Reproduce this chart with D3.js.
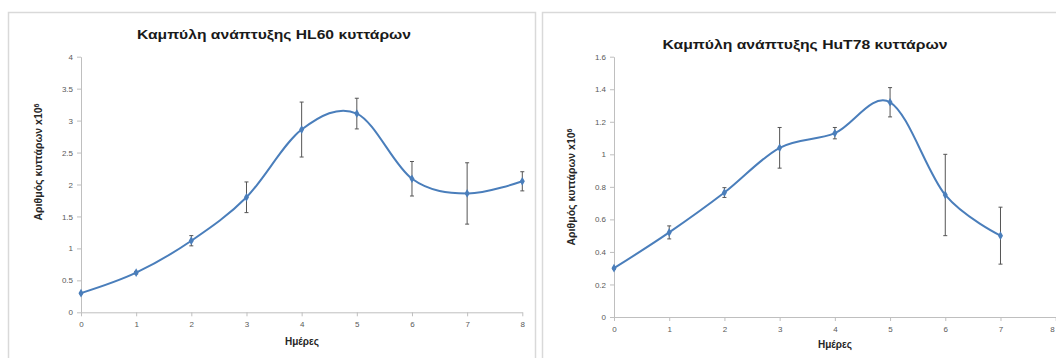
<!DOCTYPE html>
<html>
<head>
<meta charset="utf-8">
<script src="https://cdn.jsdelivr.net/npm/d3@7"></script>
<style>
html,body{margin:0;padding:0;background:#fff;}
svg{display:block;}
</style>
</head>
<body>
<svg id="c" width="1056" height="358"></svg>
<script>
// ---- data ----
const days = [0,1,2,3,4,5,6,7,8];
const xTickLabels = ["0","1","2","3","4","5","6","7","8"];

const hl60Days = [0,1,2,3,4,5,6,7,8];
const hl60Mean = [0.30,0.62,1.12,1.80,2.86,3.11,2.09,1.86,2.05];
const hl60Err  = [0.01,0.02,0.08,0.24,0.43,0.24,0.27,0.48,0.15];
const hl60YTicks = [0,0.5,1,1.5,2,2.5,3,3.5,4];
const hl60YLabels = ["0","0.5","1","1.5","2","2.5","3","3.5","4"];

const hut78Days = [0,1,2,3,4,5,6,7];
const hut78Mean = [0.30,0.52,0.765,1.04,1.13,1.32,0.75,0.50];
const hut78Err  = [0.005,0.04,0.03,0.125,0.035,0.09,0.25,0.175];
const hut78YTicks = [0,0.2,0.4,0.6,0.8,1,1.2,1.4,1.6];
const hut78YLabels = ["0","0.2","0.4","0.6","0.8","1","1.2","1.4","1.6"];

const titles = ["Καμπύλη ανάπτυξης HL60 κυττάρων","Καμπύλη ανάπτυξης HuT78 κυττάρων"];
const xTitle = "Ημέρες";
const yTitle = "Αριθμός κυττάρων x10";
const yTitleSup = "6";

// ---- drawing ----
const svg = d3.select("#c");
const lineColor = "#4a7ebb";
const axisColor = "#bfbfbf";
const textColor = "#595959";
const font = "'Liberation Sans', Arial, sans-serif";

// frames
svg.append("rect").attr("x",8.5).attr("y",12.5).attr("width",527).attr("height",360)
  .attr("fill","none").attr("stroke","#d9d9d9").attr("stroke-width",1.5);
svg.append("rect").attr("x",542.5).attr("y",12.5).attr("width",530).attr("height",360)
  .attr("fill","none").attr("stroke","#d9d9d9").attr("stroke-width",1.5);

function drawChart(cfg){
  const x = d3.scaleLinear().domain([0,8]).range([cfg.x0,cfg.x8]);
  const y = d3.scaleLinear().domain([0,cfg.yMax]).range([cfg.y0,cfg.yTop]);
  const g = svg.append("g");

  // y axis
  const yAxis = d3.axisLeft(y).tickValues(cfg.yTicks).tickSize(4).tickSizeOuter(0)
    .tickFormat((d,i)=>cfg.yLabels[i]);
  const ga = g.append("g").attr("transform",`translate(${cfg.x0},0)`).call(yAxis);
  ga.select(".domain").attr("stroke",axisColor);
  ga.selectAll(".tick line").attr("stroke",axisColor);
  ga.selectAll(".tick text").attr("fill",textColor).attr("font-size",8).attr("font-family",font).attr("x",-8);

  // x axis
  const xAxis = d3.axisBottom(x).tickValues(days).tickSize(4).tickSizeOuter(0)
    .tickFormat((d,i)=>xTickLabels[i]);
  const gx = g.append("g").attr("transform",`translate(0,${cfg.y0})`).call(xAxis);
  gx.select(".domain").attr("stroke",axisColor);
  gx.selectAll(".tick line").attr("stroke",axisColor);
  gx.selectAll(".tick text").attr("fill",textColor).attr("font-size",8).attr("font-family",font).attr("y",9);
  if (cfg.lastLabelEnd) {
    gx.selectAll(".tick text").filter(d=>d===8).attr("text-anchor","end").attr("dx",-1.5);
  }

  // error bars
  const eb = g.append("g").attr("stroke","#555").attr("stroke-width",1);
  cfg.xs.forEach((d,i)=>{
    const m = cfg.mean[i], e = cfg.err[i];
    const xx = x(d);
    eb.append("line").attr("x1",xx).attr("x2",xx).attr("y1",y(m+e)).attr("y2",y(m-e));
    eb.append("line").attr("x1",xx-2).attr("x2",xx+2).attr("y1",y(m+e)).attr("y2",y(m+e));
    eb.append("line").attr("x1",xx-2).attr("x2",xx+2).attr("y1",y(m-e)).attr("y2",y(m-e));
  });

  // smoothed line
  const line = d3.line().x((d,i)=>x(cfg.xs[i])).y(d=>y(d)).curve(d3.curveCardinal.tension(0));
  g.append("path").datum(cfg.mean).attr("d",line).attr("fill","none")
    .attr("stroke",lineColor).attr("stroke-width",2);

  // markers
  g.append("g").selectAll("path").data(cfg.mean).join("path")
    .attr("d",d3.symbol(d3.symbolDiamond,22)())
    .attr("transform",(d,i)=>`translate(${x(cfg.xs[i])},${y(d)})`)
    .attr("fill",lineColor);

  // title
  g.append("text").attr("x",cfg.tx).attr("y",cfg.ty).attr("text-anchor","middle")
    .attr("font-family",font).attr("font-weight","bold").attr("font-size",13)
    .attr("fill","#1a1a1a").attr("textLength",cfg.tw).attr("lengthAdjust","spacingAndGlyphs")
    .text(cfg.title);

  // x title
  g.append("text").attr("x",cfg.xtx).attr("y",cfg.xty).attr("text-anchor","middle")
    .attr("font-family",font).attr("font-weight","bold").attr("font-size",10)
    .attr("fill","#262626").text(xTitle);

  // y title
  const yt = g.append("text").attr("transform",`translate(${cfg.ytx},${cfg.yty}) rotate(-90)`)
    .attr("text-anchor","middle").attr("font-family",font).attr("font-weight","bold")
    .attr("font-size",10.5).attr("fill","#262626");
  yt.append("tspan").text(yTitle);
  yt.append("tspan").attr("dy",-3.5).attr("font-size",7).text(yTitleSup);
}

drawChart({
  xs:hl60Days, mean:hl60Mean, err:hl60Err, yMax:4, yTicks:hl60YTicks, yLabels:hl60YLabels,
  x0:81, x8:522.3, y0:312.3, yTop:56.7,
  title:titles[0], tx:274, ty:39, tw:274,
  xtx:302, xty:345, ytx:42, yty:162, lastLabelEnd:false
});
drawChart({
  xs:hut78Days, mean:hut78Mean, err:hut78Err, yMax:1.6, yTicks:hut78YTicks, yLabels:hut78YLabels,
  x0:614, x8:1055.7, y0:317, yTop:56.7,
  title:titles[1], tx:805, ty:49, tw:285,
  xtx:835, xty:348, ytx:575, yty:187, lastLabelEnd:true
});
</script>
</body>
</html>
